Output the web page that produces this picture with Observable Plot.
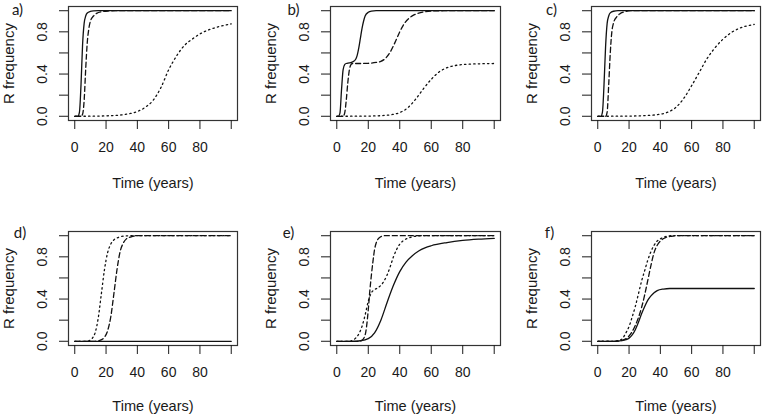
<!DOCTYPE html>
<html><head><meta charset="utf-8">
<script src="https://cdn.jsdelivr.net/npm/d3@7"></script>
<script src="https://cdn.jsdelivr.net/npm/@observablehq/plot@0.6"></script>
<style>
html,body{margin:0;background:#fff;}
#chart{position:relative;width:762px;height:416px;background:#fff;}
#chart svg{position:absolute;overflow:visible;}
</style></head><body><div id="chart"></div>
<script>
// ---- text ----
const panelLabels = ["a)", "b)", "c)", "d)", "e)", "f)"];
const xTitle = "Time (years)";
const yTitle = "R frequency";
const xTicks = [0, 20, 40, 60, 80, 100];
const xTickLabels = ["0", "20", "40", "60", "80", ""];
const yTicks = [0, 0.2, 0.4, 0.6, 0.8, 1];
const yTickLabels = ["0.0", "", "0.4", "", "0.8", ""];

// ---- data: [time (years), R frequency] ----
const aSolid = [[0,0],[2,0.002],[3,0.04],[4,0.3],[5,0.68],[6,0.88],[7,0.95],[8,0.978],[10,0.993],[12,0.998],[15,1],[100,1]];
const aDashed = [[0,0],[4,0],[5,0.02],[6,0.15],[7,0.45],[8,0.7],[9,0.83],[10,0.9],[12,0.95],[14,0.975],[17,0.99],[22,0.998],[26,1],[100,1]];
const aDotted = [[0,0],[10,0.001],[20,0.004],[30,0.013],[35,0.025],[40,0.045],[45,0.085],[50,0.15],[55,0.27],[60,0.44],[65,0.57],[70,0.67],[75,0.73],[80,0.78],[85,0.815],[90,0.84],[95,0.86],[100,0.875]];

const bSolid = [[0,0],[1,0],[2,0.03],[3,0.25],[4,0.44],[5,0.49],[6,0.5],[8,0.505],[10,0.515],[12,0.54],[13,0.58],[14,0.65],[15,0.74],[16,0.83],[17,0.9],[18,0.95],[20,0.985],[22,0.996],[25,1],[100,1]];
const bDashed = [[0,0],[4,0],[5,0.03],[6,0.15],[7,0.32],[8,0.44],[9,0.49],[10,0.5],[15,0.5],[20,0.502],[25,0.51],[28,0.52],[31,0.55],[34,0.61],[37,0.7],[40,0.8],[43,0.88],[46,0.93],[49,0.96],[52,0.978],[56,0.99],[62,0.998],[68,1],[100,1]];
const bDotted = [[0,0],[20,0.002],[30,0.008],[35,0.016],[40,0.035],[45,0.08],[50,0.16],[55,0.26],[60,0.35],[65,0.42],[70,0.46],[75,0.48],[80,0.49],[90,0.497],[100,0.5]];

const cSolid = [[0,0],[2,0],[3,0.04],[4,0.3],[5,0.66],[6,0.88],[7,0.95],[8,0.98],[10,0.995],[13,1],[100,1]];
const cDashed = [[0,0],[5,0],[6,0.04],[7,0.3],[8,0.6],[9,0.8],[10,0.88],[12,0.94],[14,0.97],[17,0.99],[21,1],[100,1]];
const cDotted = [[0,0],[20,0.002],[30,0.006],[40,0.02],[45,0.04],[50,0.085],[55,0.17],[60,0.29],[65,0.42],[70,0.55],[75,0.65],[80,0.73],[85,0.79],[90,0.83],[95,0.855],[100,0.87]];

const dSolid = [[0,0],[100,0]];
const dDashed = [[0,0],[13,0],[16,0.008],[19,0.04],[21,0.1],[23,0.23],[25,0.45],[27,0.68],[29,0.85],[31,0.93],[33,0.97],[36,0.99],[40,1],[100,1]];
const dDotted = [[0,0],[7,0],[9,0.005],[11,0.025],[13,0.08],[15,0.22],[17,0.45],[19,0.68],[21,0.84],[23,0.92],[25,0.96],[28,0.985],[32,0.997],[36,1],[100,1]];

const eSolid = [[0,0],[10,0],[15,0.005],[20,0.025],[24,0.08],[28,0.2],[32,0.37],[36,0.53],[40,0.66],[44,0.75],[48,0.81],[52,0.855],[56,0.885],[60,0.905],[70,0.935],[80,0.955],[90,0.967],[100,0.975]];
const eDashed = [[0,0],[14,0],[16,0.01],[18,0.06],[19,0.15],[20,0.3],[21,0.48],[22,0.63],[23,0.76],[24,0.87],[25,0.93],[27,0.98],[30,1],[100,1]];
const eDotted = [[0,0],[8,0],[10,0.01],[12,0.03],[14,0.07],[16,0.14],[18,0.25],[20,0.38],[22,0.46],[24,0.49],[26,0.505],[28,0.53],[30,0.57],[32,0.63],[34,0.71],[36,0.8],[38,0.87],[40,0.92],[43,0.96],[46,0.98],[50,0.995],[55,1],[100,1]];

const fSolid = [[0,0],[10,0],[14,0.003],[18,0.015],[20,0.03],[22,0.06],[24,0.11],[26,0.18],[28,0.26],[30,0.33],[32,0.39],[34,0.43],[36,0.46],[38,0.48],[42,0.495],[46,0.5],[100,0.5]];
const fDashed = [[0,0],[12,0],[16,0.01],[20,0.05],[24,0.15],[28,0.32],[30,0.44],[32,0.58],[34,0.72],[36,0.84],[38,0.91],[40,0.95],[43,0.98],[47,0.995],[50,1],[100,1]];
const fDotted = [[0,0],[10,0.002],[14,0.01],[16,0.03],[18,0.08],[20,0.14],[22,0.23],[24,0.33],[26,0.45],[28,0.57],[30,0.67],[32,0.77],[34,0.85],[36,0.91],[38,0.95],[40,0.97],[43,0.99],[47,1],[100,1]];

const seriesByPanel = [
  [aSolid, aDashed, aDotted],
  [bSolid, bDashed, bDotted],
  [cSolid, cDashed, cDotted],
  [dSolid, dDashed, dDotted],
  [eSolid, eDashed, eDotted],
  [fSolid, fDashed, fDotted]
];

// ---- layout (pixels) ----
const layout = [
  {left: 0,   top: 0,   ml: 68, mr: 17, mt: 6,  mb: 88, ldx: -51,   ldy: 3.5, tdy: 63},
  {left: 254, top: 0,   ml: 76, mr: 8,  mt: 6,  mb: 88, ldx: -37,   ldy: 3.5, tdy: 63},
  {left: 508, top: 0,   ml: 83, mr: 2,  mt: 6,  mb: 88, ldx: -40,   ldy: 3.5, tdy: 63},
  {left: 0,   top: 208, ml: 68, mr: 17, mt: 23, mb: 71, ldx: -48.5, ldy: 2,   tdy: 61},
  {left: 254, top: 208, ml: 76, mr: 8,  mt: 23, mb: 71, ldx: -42,   ldy: 2,   tdy: 61},
  {left: 508, top: 208, ml: 83, mr: 2,  mt: 23, mb: 71, ldx: -42,   ldy: 2,   tdy: 61}
];
const dashStyles = [null, "5,3", "1.4,3.2"];

const toRows = arr => arr.map(([t, v]) => ({t, v}));
const chart = document.getElementById("chart");

seriesByPanel.forEach((series, k) => {
  const L = layout[k];
  const lines = series.map((s, j) => Plot.line(toRows(s), {
    x: "t", y: "v", stroke: "#111", strokeWidth: 1.3,
    strokeDasharray: dashStyles[j] || undefined,
    curve: "monotone-x"
  }));
  const svg = Plot.plot({
    width: 254, height: 208,
    marginLeft: L.ml, marginRight: L.mr, marginTop: L.mt, marginBottom: L.mb,
    style: {fontFamily: "'Liberation Sans', Arial, sans-serif", fontSize: "14px", fontWeight: "normal", color: "#1a1a1a", background: "transparent", overflow: "visible"},
    x: {domain: [-4, 104]},
    y: {domain: [-0.04, 1.04]},
    marks: [
      Plot.frame({stroke: "#333", strokeWidth: 1.2}),
      Plot.axisX(xTicks, {tickSize: 9, tickPadding: 12.5, tickFormat: d => xTickLabels[xTicks.indexOf(d)], label: null}),
      Plot.axisY(yTicks, {tickSize: 9, tickPadding: 13, tickRotate: -90, tickFormat: d => yTickLabels[yTicks.indexOf(d)], label: null}),
      ...lines,
      Plot.text([xTitle], {frameAnchor: "bottom", dy: L.tdy, lineAnchor: "middle", textAnchor: "middle", fontSize: 14.6, fontWeight: 400, fill: "#1a1a1a"}),
      Plot.text([yTitle], {frameAnchor: "left", dx: -59.5, rotate: -90, lineAnchor: "middle", textAnchor: "middle", fontSize: 15, fontWeight: 400, fill: "#1a1a1a"}),
      Plot.text([panelLabels[k]], {frameAnchor: "top-left", dx: L.ldx, dy: L.ldy, lineAnchor: "middle", textAnchor: "middle", fontFamily: "Lato, 'Open Sans', sans-serif", fontSize: 15})
    ]
  });
  svg.style.left = L.left + "px";
  svg.style.top = L.top + "px";
  chart.appendChild(svg);
});
</script>
</body></html>
